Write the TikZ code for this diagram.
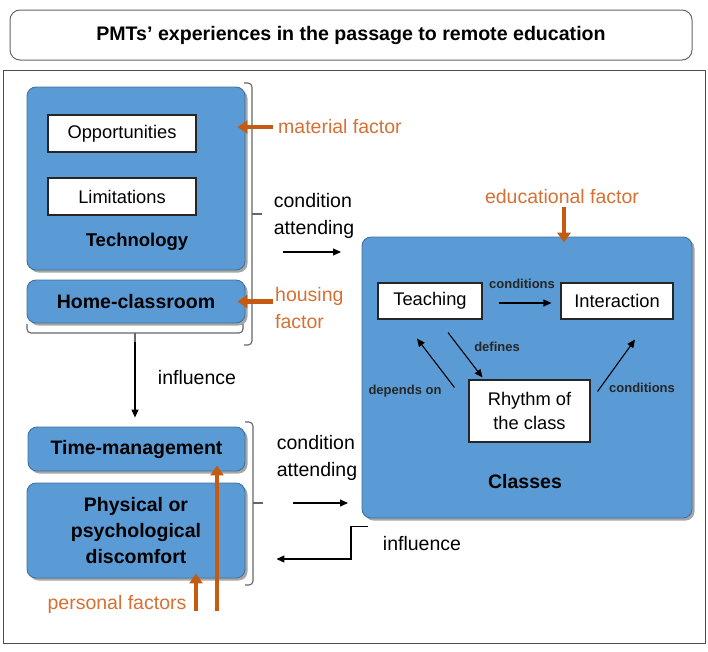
\documentclass[tikz,border=0pt]{standalone}
\usepackage{fontspec}
\setmainfont{Liberation Sans}
\usetikzlibrary{arrows.meta,shadows,calc}
\definecolor{boxblue}{RGB}{91,155,213}
\definecolor{boxedge}{RGB}{65,113,156}
\definecolor{orarrow}{RGB}{197,90,17}
\definecolor{ortext}{RGB}{214,112,52}
\begin{document}
\begin{tikzpicture}[x=1pt,y=-1pt,
  bluebox/.style={draw=boxedge, line width=0.9pt, fill=boxblue, rounded corners=9pt,
    drop shadow={shadow xshift=2.5pt, shadow yshift=-2.5pt, fill=black, opacity=0.35},
    inner sep=0pt, font=\bfseries\fontsize{19.5}{26}\selectfont, align=center},
  whitebox/.style={draw=black!85, line width=1.1pt, fill=white, inner sep=0pt,
    font=\fontsize{18.3}{24}\selectfont, align=center},
  bigtxt/.style={font=\fontsize{19.5}{27}\selectfont, inner sep=0pt, align=left},
  ortxt/.style={bigtxt, text=ortext},
  smalltxt/.style={font=\bfseries\fontsize{13}{15}\selectfont, inner sep=0pt, text=black!85},
  arr/.style={line width=1.1pt, -{Triangle[length=8pt,width=7pt]}},
  orarr/.style={draw=orarrow, line width=4.2pt, -{Triangle[length=10pt,width=13pt]}},
  bracestyle/.style={draw=black!60, line width=1.1pt, rounded corners=4pt},
]
\useasboundingbox (0,0) rectangle (708,651);
% title and frame
\node[draw=black!60, line width=1pt, rounded corners=10pt, minimum width=682pt, minimum height=50pt,
  font=\bfseries\fontsize{19.6}{22}\selectfont] (title) at (351,35) {PMTs’ experiences in the passage to remote education};
\draw[draw=black!70, line width=1pt] (3,70) rectangle (705,643);

% left column
\node[bluebox, minimum width=218pt, minimum height=183pt] (tech) at (136,178.5) {};
\node[whitebox, minimum width=148pt, minimum height=37pt] (opp) at (122,133.5) {Opportunities};
\node[whitebox, minimum width=148pt, minimum height=37pt] (lim) at (122,196.5) {Limitations};
\node[font=\bfseries\fontsize{18.5}{22}\selectfont, inner sep=0pt] (techlbl) at (137,242) {Technology};
\node[bluebox, minimum width=218pt, minimum height=43pt] (home) at (136,301.5) {Home-classroom};
\node[bluebox, minimum width=217pt, minimum height=44pt] (time) at (136.5,449) {Time-management};
\node[bluebox, minimum width=218pt, minimum height=95pt] (phys) at (136,530.5) {Physical or\\psychological\\discomfort};

% brackets
\draw[bracestyle] (244,83) -- (252,83) -- (252,345) -- (244,345);
\draw[bracestyle] (252,214) -- (262,214);
\draw[bracestyle] (27,324) -- (27,333) -- (243,333) -- (243,324);
\draw[bracestyle] (135,333) -- (135,342);
\coordinate (hbtip) at (135,342);
\draw[bracestyle] (245,422) -- (253,422) -- (253,585) -- (245,585);
\draw[bracestyle] (253,503) -- (263,503);

% classes
\node[bluebox, minimum width=330pt, minimum height=281pt] (classes) at (527,377.5) {};
\node[whitebox, minimum width=104pt, minimum height=36pt] (teach) at (430,301) {Teaching};
\node[whitebox, minimum width=112pt, minimum height=36pt] (inter) at (617,301) {Interaction};
\node[whitebox, minimum width=121pt, minimum height=62pt] (rhythm) at (529.5,411) {Rhythm of\\the class};
\node[font=\bfseries\fontsize{19.5}{22}\selectfont, inner sep=0pt] (classlbl) at (525,482) {Classes};

\draw[arr] ($(teach.east)+(16,2)$) -- ($(inter.west)+(-9,2)$);
\node[smalltxt] (lcond1) at (522,284) {conditions};
\draw[arr] ($(teach.south)+(18,13)$) -- ($(rhythm.north west)+(14,-2)$);
\node[smalltxt] (ldef) at (497,347) {defines};
\draw[arr] ($(rhythm.north west)+(-14,8)$) -- ($(teach.south)+(-13,19)$);
\node[smalltxt] (ldep) at (405,391) {depends on};
\draw[arr] ($(rhythm.north east)+(7,12)$) -- ($(inter.south)+(18,20)$);
\node[smalltxt] (lcond2) at (642,388) {conditions};

% condition attending (top)
\node[bigtxt] (ca1) at (314,216) {condition\\attending};
\coordinate (ca1s) at (283,252);
\coordinate (ca1e) at (341,252);
\draw[arr] (ca1s) -- (ca1e);
% condition attending (bottom)
\node[bigtxt] (ca2) at (317,458) {condition\\attending};
\coordinate (ca2s) at (293,503);
\coordinate (ca2e) at (348,503);
\draw[arr] (ca2s) -- (ca2e);

% influence down
\draw[arr] (hbtip) -- ($(time.north)+(-1.5,-9)$);
\node[bigtxt] (inf1) at (197,378) {influence};

% influence back
\coordinate (ib) at (351,559);
\draw[arr] ($(classes.south west)+(6,8)$) -| (ib) -- ($(phys.east)+(31,28.5)$);
\node[bigtxt] (inf2) at (422,544) {influence};

% orange factors
\node[ortxt, anchor=west] (matf) at (278,127) {material factor};
\draw[orarr] ($(matf.west)+(-5,0)$) -- ($(tech.east |- matf.west)+(-8,0)$);
\node[ortxt, anchor=north west] (housf) at (275,287) {housing\\factor};
\coordinate (hfa) at (273,301.5);
\draw[orarr] (hfa) -- ($(home.east)+(-8,0)$);
\node[ortxt] (eduf) at (562,197) {educational factor};
\draw[orarr] ($(eduf.south)+(2,3)$) -- ($(classes.north -| eduf.south)+(2,6)$);
\node[ortxt] (persf) at (117,604) {personal factors};
\coordinate (pf1) at (196,611);
\coordinate (pf2) at (217,611);
\draw[orarr] (pf1) -- ($(pf1 |- phys.south)+(0,-5)$);
\draw[orarr] (pf2) -- ($(pf2 |- time.south)+(0,-6)$);
\end{tikzpicture}
\end{document}
